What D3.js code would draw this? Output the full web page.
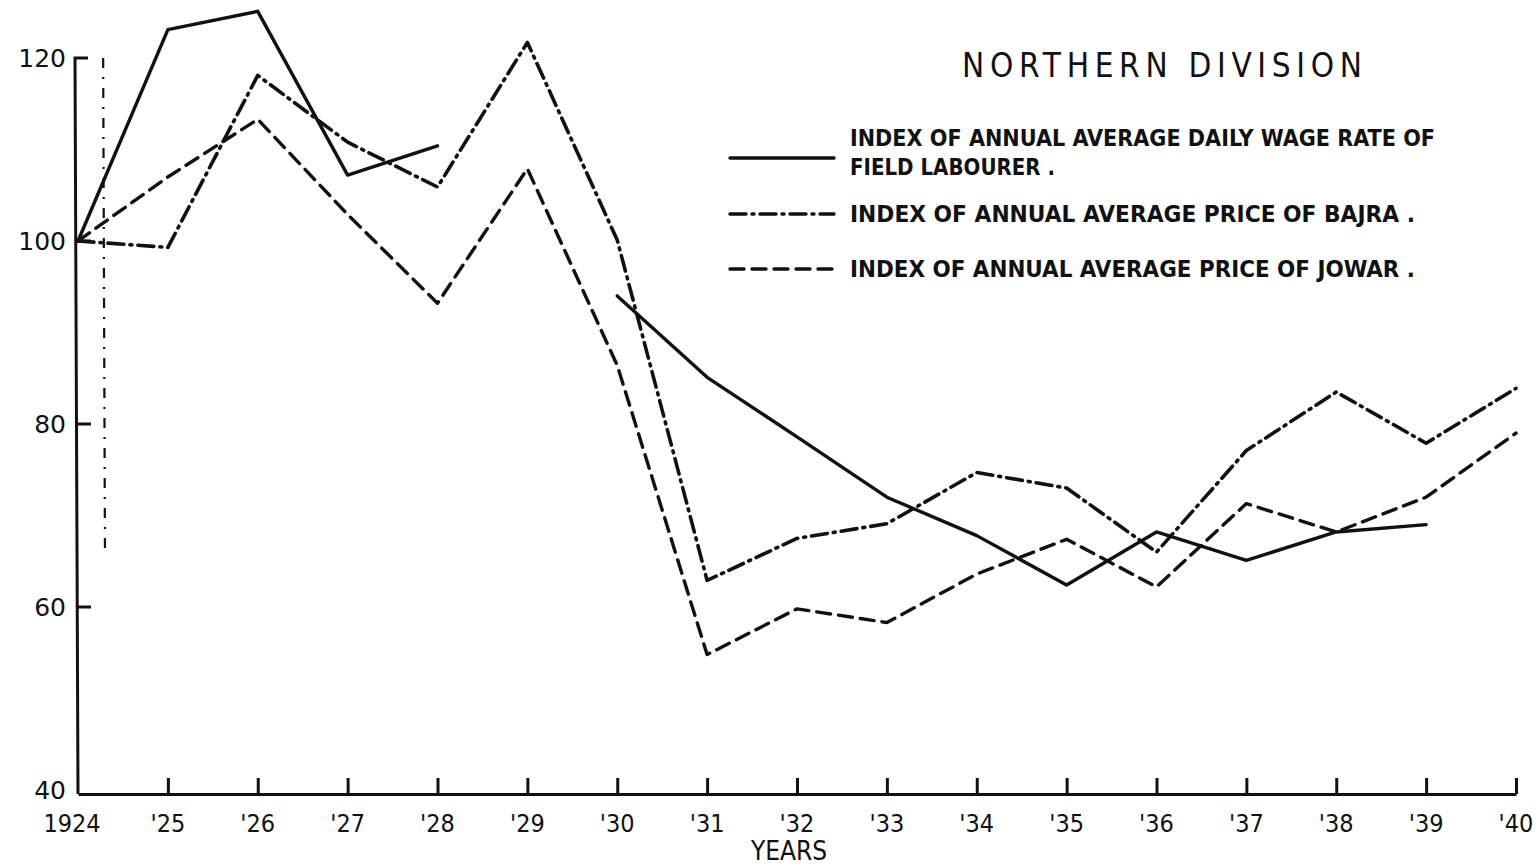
<!DOCTYPE html>
<html>
<head>
<meta charset="utf-8">
<script src="https://cdn.jsdelivr.net/npm/d3@7"></script>
<style>
  html, body { margin: 0; padding: 0; background: #fff; }
  svg { display: block; }
  .lbl { font-family: "Liberation Sans Narrow", "DejaVu Sans Condensed", sans-serif; font-weight: bold; fill: #111; }
</style>
</head>
<body>
<svg id="chart" width="1538" height="868"></svg>
<script>
// data (index numbers, 1924 = 100)
const years = d3.range(1924, 1941);
const yearLabels = ['1924', "'25", "'26", "'27", "'28", "'29", "'30", "'31", "'32",
                    "'33", "'34", "'35", "'36", "'37", "'38", "'39", "'40"];
const wage  = [100, 123.1, 125.1, 107.2, 110.4, null, 94, 85.1, 78.6, 72.0, 67.8, 62.4, 68.2, 65.1, 68.2, 69.0, null];
const bajra = [100, 99.3, 118.1, 110.8, 105.9, 121.7, 100.1, 62.9, 67.5, 69.1, 74.7, 73.0, 66.0, 77.1, 83.5, 77.9, 83.9];
const jowar = [100, 107, 113.3, 102.9, 93.2, 107.9, 86.4, 54.8, 59.8, 58.3, 63.6, 67.4, 62.2, 71.3, 68.2, 72.0, 79.0];
const yTicks = [40, 60, 80, 100, 120];

const title = 'NORTHERN DIVISION';
const legendItems = [
  { lines: ['INDEX OF ANNUAL AVERAGE DAILY WAGE RATE OF', 'FIELD LABOURER .'], dash: null },
  { lines: ['INDEX OF ANNUAL AVERAGE  PRICE OF  BAJRA .'], dash: '16,6,2,6' },
  { lines: ['INDEX OF ANNUAL AVERAGE  PRICE OF  JOWAR .'], dash: '14,8' }
];

const svg = d3.select('#chart');

const x = d3.scaleLinear().domain([1924, 1940]).range([78, 1516]);
const y = d3.scaleLinear().domain([40, 120]).range([790, 58]);

const ink = '#111';

// odd dash-dot vertical stroke near the axis in the scan
svg.append('line')
    .attr('x1', x(1924.28)).attr('x2', x(1924.3))
    .attr('y1', y(120)).attr('y2', y(66))
    .attr('stroke', ink).attr('stroke-width', 2.2)
    .attr('stroke-dasharray', '10,9,2,9');

// y axis
svg.append('path')
    .attr('d', `M${x(1924) + 10},${y(120)} L${x(1924) - 3},${y(120)} L${x(1924)},${y(40) + 4}`)
    .attr('fill', 'none').attr('stroke', ink).attr('stroke-width', 3);

svg.selectAll('.ytick')
    .data(yTicks.filter(d => d > 40 && d < 120))
    .enter().append('line')
    .attr('x1', x(1924)).attr('x2', x(1924) + 13)
    .attr('y1', d => y(d)).attr('y2', d => y(d))
    .attr('stroke', ink).attr('stroke-width', 3);

svg.selectAll('.ylab')
    .data(yTicks)
    .enter().append('text')
    .attr('class', 'lbl')
    .attr('x', x(1924) - 12)
    .attr('y', d => y(d) + 9)
    .attr('text-anchor', 'end')
    .style('font-size', '25px')
    .style('font-family', '"DejaVu Sans", sans-serif')
    .style('font-weight', 'normal')
    .text(d => d);

// x axis, drawn with d3 and restyled
const xAxis = svg.append('g')
    .attr('transform', `translate(0, ${y(40) + 4})`)
    .call(d3.axisTop(x).tickValues(years).tickSize(16).tickFormat('').tickSizeOuter(0));
xAxis.select('.domain').attr('stroke', ink).attr('stroke-width', 3);
xAxis.selectAll('.tick line').attr('stroke', ink).attr('stroke-width', 3);
xAxis.selectAll('.tick').filter(d => d === 1924).remove();

svg.selectAll('.xlab')
    .data(years)
    .enter().append('text')
    .attr('class', 'lbl')
    .attr('x', (d, i) => x(d) + (i === 0 ? -6 : 0))
    .attr('y', y(40) + 42)
    .attr('text-anchor', 'middle')
    .style('font-size', '25px')
    .style('font-weight', 'normal')
    .text((d, i) => yearLabels[i]);

svg.append('text')
    .attr('class', 'lbl')
    .attr('x', x(1932) - 8)
    .attr('y', 860)
    .attr('text-anchor', 'middle')
    .style('font-size', '26px')
    .style('font-weight', 'normal')
    .text('YEARS');

// series
const line = d3.line()
    .defined(d => d[1] !== null)
    .x(d => x(d[0]))
    .y(d => y(d[1]));

const series = [
  { values: wage,  dash: null,       width: 3.4 },
  { values: bajra, dash: '16,6,2,6', width: 3.6 },
  { values: jowar, dash: '14,8',     width: 3.4 }
];

svg.selectAll('.series')
    .data(series)
    .enter().append('path')
    .attr('class', 'series')
    .attr('d', s => line(years.map((yr, i) => [yr, s.values[i]])))
    .attr('fill', 'none')
    .attr('stroke', ink)
    .attr('stroke-width', s => s.width)
    .attr('stroke-linejoin', 'round')
    .attr('stroke-linecap', 'round')
    .attr('stroke-dasharray', s => s.dash);

// title and legend
svg.append('text')
    .attr('class', 'lbl')
    .attr('x', 962)
    .attr('y', 77)
    .attr('textLength', 400)
    .attr('lengthAdjust', 'spacing')
    .style('font-size', '33px')
    .style('font-weight', 'normal')
    .text(title);

const legendRows = [146, 222, 277];
const legend = svg.append('g');
legendItems.forEach((item, i) => {
  const ly = legendRows[i];
  const sampleY = item.lines.length > 1 ? ly + 12 : ly - 8;
  legend.append('line')
      .attr('x1', 730).attr('x2', 834)
      .attr('y1', sampleY).attr('y2', sampleY)
      .attr('stroke', ink).attr('stroke-width', 3.4)
      .attr('stroke-linecap', 'round')
      .attr('stroke-dasharray', item.dash);
  item.lines.forEach((t, j) => {
    legend.append('text')
        .attr('class', 'lbl')
        .attr('x', 850)
        .attr('y', ly + j * 29)
        .attr('textLength', j === 0 ? (i === 0 ? 585 : 565) : 205)
        .attr('lengthAdjust', 'spacingAndGlyphs')
        .style('font-size', '23px')
        .text(t);
  });
});
</script>
</body>
</html>
